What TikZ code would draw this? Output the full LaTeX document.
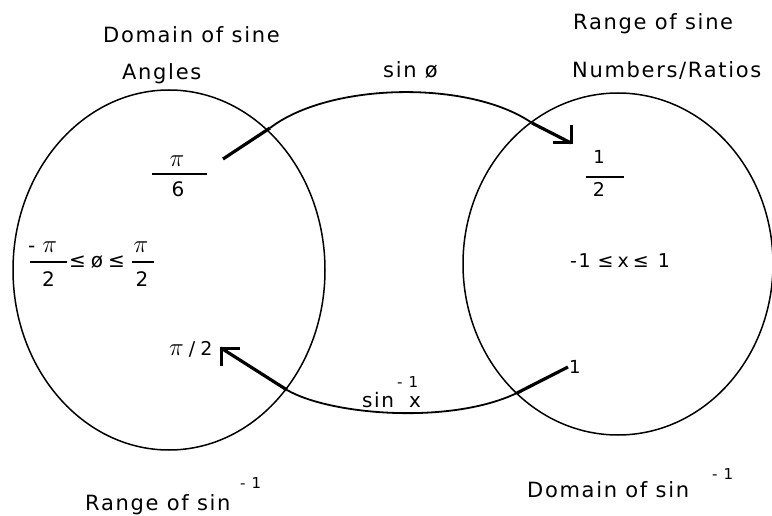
\documentclass[tikz,border=0pt]{standalone}
\usepackage{fontspec}
\setmainfont{DejaVu Sans}[LetterSpace=8]
\newcommand\fs[1]{\fontsize{#1}{#1}\selectfont}
\newcommand\mypi{{\fontsize{26}{26}\selectfont$\pi$}}
\begin{document}
\begin{tikzpicture}[x=1pt,y=-1pt,
  lbl/.style={inner sep=0pt, anchor=base west},
  ctr/.style={inner sep=0pt, anchor=base},
  ell/.style={line width=1.5pt},
  arcline/.style={line width=1.8pt},
  thk/.style={line width=3.2pt},
  barline/.style={line width=1.5pt},
  tipline/.style={line width=3pt, miter limit=10}]
\useasboundingbox (0,0) rectangle (772,516);

% circles
\draw[ell] (169,270) ellipse [x radius=156pt, y radius=180pt];
\draw[ell] (618,264) ellipse [x radius=155pt, y radius=171pt];

% headings
\node[lbl] (dsine) at (103,43) {\fs{21}Domain of sine};
\node[lbl] (angles) at (122,80) {\fs{21}Angles};
\node[lbl] (sinphi) at (383,78) {\fs{21}sin ø};
\node[lbl] (rsine) at (573,30) {\fs{21}Range of sine};
\node[lbl] (ratios) at (572,78) {\fs{21}Numbers/Ratios};
\node[lbl] (rsin) at (85,510) {\fs{21}Range of sin};
\node[lbl] (rsinexp) at (240,488) {\fs{15}- 1};
\node[lbl] (dsin) at (527,497) {\fs{21}Domain of sin};
\node[lbl] (dsinexp) at (712,479) {\fs{15}- 1};

% pi/6
\node[ctr] (pinum) at (177,167) {\mypi};
\coordinate (pbl) at (152,174); \coordinate (pbr) at (207,174);
\draw[barline] (pbl) -- (pbr);
\node[ctr] (piden) at (178,197) {\fs{20}6};

% -pi/2 <= phi <= pi/2
\node[lbl] (lnum) at (28,253) {\fs{20}-\hspace{7pt}\mypi};
\coordinate (lbl1) at (30,262); \coordinate (lbr1) at (67,262);
\draw[barline] (lbl1) -- (lbr1);
\node[ctr] (lden) at (48.5,287) {\fs{20}2};
\node[lbl] (ineq) at (69,267) {\fs{20}≤\hspace{5pt}ø\hspace{5pt}≤};
\node[ctr] (rnum) at (141,253) {\mypi};
\coordinate (lbl2) at (132,262); \coordinate (lbr2) at (154,262);
\draw[barline] (lbl2) -- (lbr2);
\node[ctr] (rden) at (142,287) {\fs{20}2};

% pi / 2
\node[lbl] (pihalf) at (169,355) {\mypi\fs{19}\hspace{5pt}/\hspace{5pt}2};

% 1/2
\node[ctr] (hnum) at (599,164) {\fs{18}1};
\coordinate (hbl) at (586,177); \coordinate (hbr) at (624,177);
\draw[barline] (hbl) -- (hbr);
\node[ctr] (hden) at (599,197) {\fs{19}2};

% -1 <= x <= 1
\node[lbl] (range) at (570,267) {\fs{19}-1\hspace{7pt}≤\hspace{4pt}x\hspace{4pt}≤\hspace{9pt}1};

% 1
\node[lbl] (one) at (569,373) {\fs{18}1};

% sin^-1 x
\node[lbl] (asin) at (362,407) {\fs{20}sin};
\node[lbl] (asinexp) at (397,387) {\fs{15}- 1};
\node[lbl] (asinx) at (409,407) {\fs{20}x};

% sin phi arrow
\coordinate (a0) at (223,159);
\coordinate (a1) at (270,128);
\coordinate (a2) at (532,123);
\coordinate (tipA) at (571,143);
\draw[thk] (a0) -- (a1);
\draw[arcline] (a1) .. controls (330,82) and (470,80) .. (a2);
\draw[thk] (a2) -- (tipA);
\draw[tipline] (571,125) -- (tipA) -- (553,143);

% sin^-1 x arrow
\coordinate (b0) at (568,367);
\coordinate (b1) at (517,393);
\coordinate (b2) at (287,390);
\coordinate (tipB) at (221,348);
\draw[thk] (b0) -- (b1);
\draw[arcline] (b1) .. controls (450,425) and (330,415) .. (b2);
\draw[thk] (b2) -- (tipB);
\draw[tipline] (240,348) -- (tipB) -- (221,366);
\end{tikzpicture}
\end{document}
